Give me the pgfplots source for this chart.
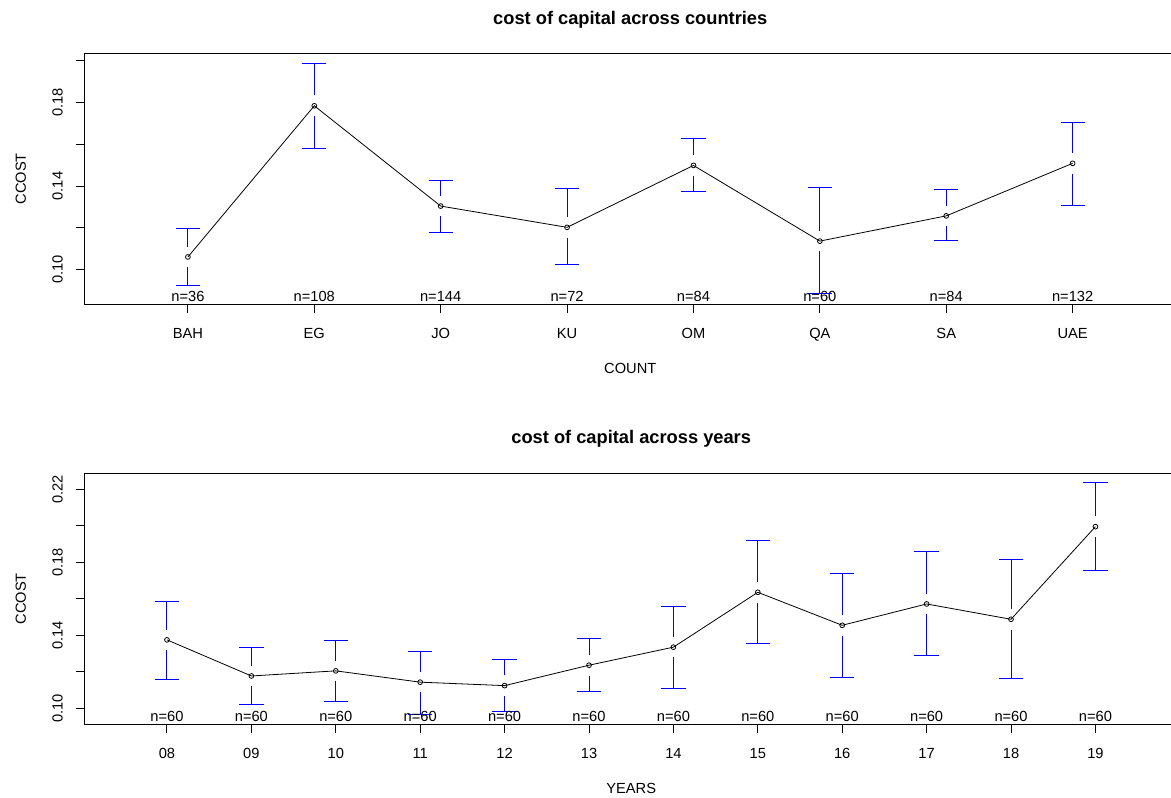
\documentclass[border=0pt]{standalone}
\usepackage{pgfplots}
\pgfplotsset{compat=1.18}
\usepackage{pgfplotstable}
\usetikzlibrary{arrows.meta}
\usepackage{fontspec}
\setmainfont{Liberation Sans}
\definecolor{rblue}{RGB}{0,0,255}

\pgfplotstableread{
x m lo hi
1 0.1060 0.0921 0.1200
2 0.1785 0.1578 0.1992
3 0.1304 0.1176 0.1427
4 0.1202 0.1021 0.1390
5 0.1499 0.1373 0.1632
6 0.1136 0.0880 0.1395
7 0.1257 0.1136 0.1384
8 0.1509 0.1304 0.1709
}\countrytab

\pgfplotstableread{
x m lo hi
1 0.1375 0.1157 0.1589
2 0.1177 0.1016 0.1338
3 0.1205 0.1033 0.1375
4 0.1143 0.0965 0.1313
5 0.1124 0.0980 0.1270
6 0.1236 0.1089 0.1386
7 0.1335 0.1104 0.1563
8 0.1636 0.1351 0.1922
9 0.1455 0.1166 0.1741
10 0.1572 0.1287 0.1865
11 0.1488 0.1161 0.1817
12 0.1996 0.1752 0.2240
}\yeartab

\tikzset{nlab/.style={anchor=base, inner sep=0pt, yshift=2pt, font=\fontsize{11}{13}\selectfont}}

\pgfplotsset{
  rstyle/.style={
    scale only axis,
    height=188.25pt,
    axis line style={line width=0.75pt},
    tick align=outside,
    tick pos=left,
    major tick length=6.2pt,
    tick style={black, line width=0.75pt},
    tick label style={font=\fontsize{11}{13}\selectfont},
    label style={font=\fontsize{11}{13}\selectfont},
    yticklabel style={rotate=90, anchor=south, yshift=6.4pt},
    xticklabel style={yshift=-8.3pt},
    ylabel style={at={(axis description cs:-0.058,0.5)}, anchor=center},
    xlabel style={at={(axis description cs:0.5,0)}, anchor=center, yshift=-48.5pt},
    title style={at={(axis description cs:0.5,1)}, anchor=center, yshift=19.2pt, font=\bfseries\fontsize{13.7}{16}\selectfont},
    /pgf/number format/assume math mode=true,
  },
  meanline/.style={black, line width=0.6pt, mark=o, mark size=1.8pt, mark options={fill=white, line width=0.6pt}},
  errbar/.style={draw=rblue, color=rblue, line width=0.75pt, mark=none, forget plot,
    -{Bar[width=18.2pt, line width=0.75pt, color=rblue]}},
}

\begin{document}
\begin{tikzpicture}
\useasboundingbox (0,0) rectangle (878.25pt,-598.5pt);
\clip (0,0) rectangle (878.25pt,-598.5pt);

\begin{axis}[rstyle,
  at={(63.2pt,-228.2pt)}, anchor=south west,
  width=819pt,
  xmin=0.18, xmax=8.82, ymin=0.0833, ymax=0.2037,
  xtick={1,...,8},
  xticklabels={BAH,EG,JO,KU,OM,QA,SA,UAE},
  ytick={0.10,0.12,0.14,0.16,0.18,0.20},
  yticklabels={0.10,,0.14,,0.18,},
  xlabel={COUNT}, ylabel={CCOST},
  title={cost of capital across countries},
]
\addplot[errbar, quiver={u=0, v=\thisrow{hi}-\thisrow{m}-0.00494}] table[x=x, y expr=\thisrow{m}+0.00494] {\countrytab};
\addplot[errbar, quiver={u=0, v=\thisrow{lo}-\thisrow{m}+0.00494}] table[x=x, y expr=\thisrow{m}-0.00494] {\countrytab};
\addplot[meanline] table[x=x, y=m] {\countrytab};
\node[nlab] at (axis cs:1,0.0833) {n=36};
\node[nlab] at (axis cs:2,0.0833) {n=108};
\node[nlab] at (axis cs:3,0.0833) {n=144};
\node[nlab] at (axis cs:4,0.0833) {n=72};
\node[nlab] at (axis cs:5,0.0833) {n=84};
\node[nlab] at (axis cs:6,0.0833) {n=60};
\node[nlab] at (axis cs:7,0.0833) {n=84};
\node[nlab] at (axis cs:8,0.0833) {n=132};
\end{axis}

\begin{axis}[rstyle,
  at={(63.2pt,-543.2pt)}, anchor=south west,
  width=820.4pt,
  xmin=0.02, xmax=12.98, ymin=0.0912, ymax=0.2289,
  xtick={1,...,12},
  xticklabels={08,09,10,11,12,13,14,15,16,17,18,19},
  ytick={0.10,0.12,0.14,0.16,0.18,0.20,0.22},
  yticklabels={0.10,,0.14,,0.18,,0.22},
  xlabel={YEARS}, ylabel={CCOST},
  title={cost of capital across years},
  title style={yshift=0.3pt},
]
\addplot[errbar, quiver={u=0, v=\thisrow{hi}-\thisrow{m}-0.00565}] table[x=x, y expr=\thisrow{m}+0.00565] {\yeartab};
\addplot[errbar, quiver={u=0, v=\thisrow{lo}-\thisrow{m}+0.00565}] table[x=x, y expr=\thisrow{m}-0.00565] {\yeartab};
\addplot[meanline] table[x=x, y=m] {\yeartab};
\node[nlab] at (axis cs:1,0.0912) {n=60};
\node[nlab] at (axis cs:2,0.0912) {n=60};
\node[nlab] at (axis cs:3,0.0912) {n=60};
\node[nlab] at (axis cs:4,0.0912) {n=60};
\node[nlab] at (axis cs:5,0.0912) {n=60};
\node[nlab] at (axis cs:6,0.0912) {n=60};
\node[nlab] at (axis cs:7,0.0912) {n=60};
\node[nlab] at (axis cs:8,0.0912) {n=60};
\node[nlab] at (axis cs:9,0.0912) {n=60};
\node[nlab] at (axis cs:10,0.0912) {n=60};
\node[nlab] at (axis cs:11,0.0912) {n=60};
\node[nlab] at (axis cs:12,0.0912) {n=60};
\end{axis}
\end{tikzpicture}
\end{document}
